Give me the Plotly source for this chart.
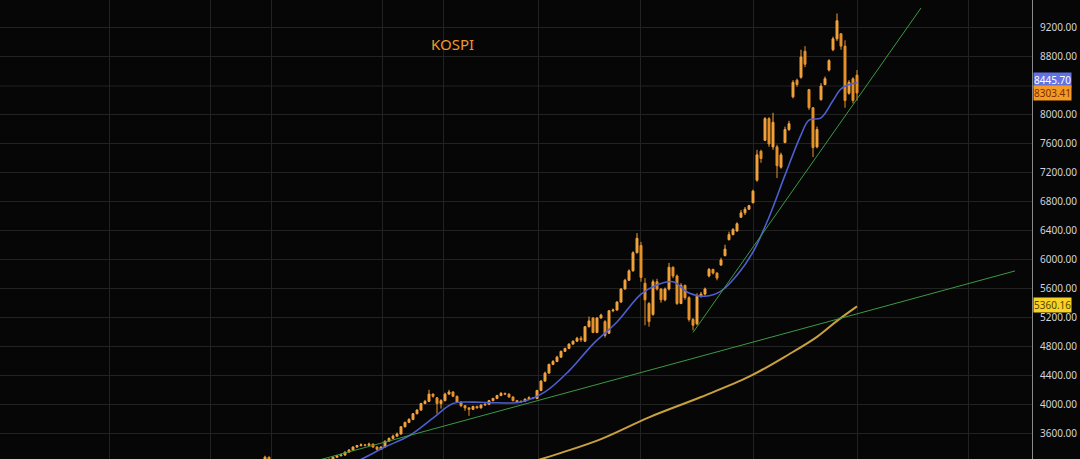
import plotly.graph_objects as go

# candle data (one candle per session)
opens = [3250, 3280, 3230, 3190, 3160, 3140, 3120, 3150, 3170, 3150,
         3180, 3200, 3190, 3210, 3230, 3220, 3240, 3250, 3280, 3300,
         3310, 3350, 3380, 3420, 3440, 3450, 3445, 3460, 3420, 3390,
         3420, 3500, 3540, 3570, 3600, 3700, 3760, 3800, 3880, 3930,
         4020, 4050, 4150, 4100, 4020, 4060, 4150, 4180, 4120, 4040,
         3990, 3960, 3940, 3980, 3960, 4000, 4010, 4060, 4090, 4130,
         4160, 4150, 4110, 4060, 4040, 4050, 4080, 4100, 4090, 4200,
         4330, 4440, 4560, 4600, 4660, 4740, 4780, 4840, 4880, 4920,
         4880, 5080, 5200, 5000, 5200, 5150, 4990, 5300, 5310, 5420,
         5600, 5720, 5850, 6100, 6200, 5680, 5400, 5250, 5700, 5600,
         5450, 5600, 5900, 5780, 5400, 5650, 5480, 5180, 5120, 5500,
         5530, 5780, 5870, 5820, 5930, 6060, 6280, 6350, 6400, 6590,
         6650, 6700, 6790, 7100, 7500, 7650, 7950, 7560, 7560, 7280,
         7620, 7800, 8250, 8480, 8520, 8880, 8350, 8100, 7560, 8210,
         8420, 8620, 8900, 9050, 9120, 8950, 8300, 8500, 8550]
highs = [3300, 3290, 3240, 3200, 3170, 3160, 3160, 3180, 3180, 3190,
         3210, 3210, 3220, 3240, 3240, 3250, 3260, 3290, 3310, 3330,
         3360, 3390, 3430, 3450, 3470, 3460, 3480, 3470, 3430, 3430,
         3510, 3550, 3590, 3620, 3710, 3770, 3820, 3890, 3940, 4030,
         4070, 4210, 4160, 4110, 4080, 4170, 4210, 4190, 4130, 4050,
         4000, 3970, 3990, 3990, 4010, 4020, 4070, 4100, 4140, 4180,
         4170, 4160, 4120, 4070, 4060, 4090, 4120, 4110, 4210, 4340,
         4460, 4570, 4620, 4680, 4750, 4790, 4850, 4890, 4940, 4950,
         5090, 5220, 5210, 5210, 5260, 5170, 5310, 5330, 5430, 5610,
         5740, 5870, 6120, 6370, 6250, 5750, 5420, 5730, 5740, 5610,
         5620, 5960, 5910, 5800, 5680, 5660, 5500, 5200, 5540, 5560,
         5620, 5890, 5880, 5830, 6030, 6210, 6390, 6440, 6520, 6690,
         6730, 6760, 6970, 7520, 7520, 7970, 7970, 8030, 7590, 7480,
         7840, 7920, 8480, 8500, 8900, 8950, 8360, 8110, 7840, 8440,
         8530, 8770, 9080, 9400, 9130, 9030, 8480, 8520, 8620]
lows = [3200, 3220, 3180, 3150, 3130, 3110, 3110, 3140, 3140, 3140,
        3170, 3180, 3180, 3200, 3210, 3210, 3230, 3240, 3270, 3290,
        3300, 3340, 3370, 3410, 3430, 3430, 3440, 3410, 3370, 3380,
        3410, 3490, 3530, 3560, 3590, 3690, 3750, 3790, 3870, 3920,
        4010, 4040, 4100, 3880, 3950, 4050, 4140, 4110, 4030, 3970,
        3920, 3850, 3930, 3950, 3950, 3990, 4000, 4050, 4080, 4120,
        4140, 4100, 4050, 4030, 4030, 4040, 4070, 4080, 4080, 4190,
        4320, 4430, 4550, 4590, 4650, 4730, 4770, 4830, 4870, 4870,
        4870, 5070, 4990, 4990, 5190, 4930, 4980, 5280, 5300, 5410,
        5590, 5710, 5840, 6090, 5700, 5100, 5080, 5230, 5580, 5410,
        5430, 5580, 5750, 5380, 5390, 5450, 5150, 5030, 5100, 5480,
        5510, 5760, 5800, 5720, 5920, 6050, 6270, 6340, 6390, 6580,
        6620, 6690, 6780, 7080, 7340, 7640, 7560, 7520, 7130, 7260,
        7610, 7780, 8230, 8390, 8500, 8660, 8070, 7420, 7540, 8200,
        8410, 8600, 8880, 9020, 8900, 8100, 8280, 8160, 8200]
closes = [3280, 3230, 3190, 3160, 3140, 3120, 3150, 3170, 3150, 3180,
          3200, 3190, 3210, 3230, 3220, 3240, 3250, 3280, 3300, 3310,
          3350, 3380, 3420, 3440, 3450, 3445, 3460, 3420, 3390, 3420,
          3500, 3540, 3570, 3600, 3700, 3760, 3800, 3880, 3930, 4020,
          4050, 4150, 4120, 4020, 4060, 4150, 4180, 4120, 4040, 3990,
          3960, 3940, 3980, 3960, 4000, 4010, 4060, 4090, 4130, 4160,
          4150, 4110, 4060, 4040, 4050, 4080, 4100, 4090, 4200, 4330,
          4440, 4560, 4600, 4660, 4740, 4780, 4840, 4880, 4920, 4900,
          5080, 5160, 5000, 5200, 5240, 4960, 5300, 5310, 5420, 5600,
          5720, 5850, 6100, 6300, 5760, 5450, 5150, 5700, 5600, 5450,
          5600, 5900, 5780, 5400, 5650, 5480, 5180, 5100, 5500, 5530,
          5600, 5870, 5820, 5750, 6000, 6150, 6350, 6420, 6500, 6650,
          6700, 6750, 6950, 7450, 7400, 7950, 7600, 7900, 7300, 7450,
          7800, 7880, 8450, 8420, 8800, 8700, 8100, 7550, 7800, 8400,
          8500, 8750, 9050, 9300, 8950, 8200, 8450, 8200, 8303.41]
bars = list(range(len(closes)))

# short moving average (blue)
ma_short_x = [20, 24, 30, 36, 42, 47, 52, 58, 64, 70, 76, 82, 88, 94, 98,
              102, 106, 110, 114, 118, 122, 126, 130, 134, 136, 139, 142,
              144, 146, 148]
ma_short_y = [3160, 3250, 3420, 3575, 3820, 4020, 4040, 4030, 4040, 4180,
              4470, 4840, 5145, 5530, 5656, 5700, 5545, 5500, 5570, 5790,
              6110, 6590, 7170, 7725, 7930, 7960, 8200, 8360, 8420, 8445.70]

# long moving average (gold)
ma_long_x = [67, 74, 84, 96, 109, 121, 131, 138, 143, 148]
ma_long_y = [3220, 3340, 3530, 3830, 4110, 4390, 4700, 4940, 5160, 5360.16]

# hand-drawn trend lines
trend1_x = [8.75, 187.5]
trend1_y = [3170, 5849]
trend2_x = [107, 164]
trend2_y = [5000, 9476]

# price scale labels (8400 sits under the price tags, so it is not shown)
price_ticks = [3600, 4000, 4400, 4800, 5200, 5600, 6000, 6400, 6800, 7200,
               7600, 8000, 8800, 9200]

# price tags on the axis
tag_values = [8445.70, 8303.41, 5360.16]
tag_colors = ['#6173e3', '#f59a23', '#f7d325']
tag_text_colors = ['#ffffff', '#7a2e00', '#5a4500']
tag_nudge = [3, 0, 1]  # px, keeps the two top tags from overlapping

bg = '#060606'
grid = '#222222'
candle_orange = '#f3a23c'

fig = go.Figure()

fig.add_trace(go.Candlestick(
    x=bars, open=opens, high=highs, low=lows, close=closes,
    increasing=dict(line=dict(color=candle_orange, width=1), fillcolor=candle_orange),
    decreasing=dict(line=dict(color='#e8922a', width=1), fillcolor='#e8922a'),
    whiskerwidth=0, showlegend=False))

fig.add_trace(go.Scatter(x=ma_short_x, y=ma_short_y, mode='lines',
                         line=dict(color='#4d5fd0', width=1.6, shape='spline'),
                         showlegend=False))
fig.add_trace(go.Scatter(x=ma_long_x, y=ma_long_y, mode='lines',
                         line=dict(color='#c9a03e', width=2, shape='spline'),
                         showlegend=False))
fig.add_trace(go.Scatter(x=trend1_x, y=trend1_y, mode='lines',
                         line=dict(color='#3c9a45', width=1), showlegend=False))
fig.add_trace(go.Scatter(x=trend2_x, y=trend2_y, mode='lines',
                         line=dict(color='#3c9a45', width=1), showlegend=False))

# vertical grid lines sit on date boundaries (in bar units)
grid_x = [-39, -13.75, 1.5, 29.25, 44.5, 68.25, 93.75, 122, 148, 175.75]

fig.update_layout(
    width=1080, height=459,
    margin=dict(l=0, r=48, t=0, b=0),
    paper_bgcolor=bg, plot_bgcolor=bg,
    font=dict(family='Noto Sans', color='#d1d4dc', size=10),
    xaxis=dict(range=[-66.25, 191.75], tickvals=grid_x, showticklabels=False,
               showgrid=True, gridcolor=grid, gridwidth=1, zeroline=False,
               rangeslider=dict(visible=False), fixedrange=True),
    yaxis=dict(range=[3255, 9586], side='right', tickvals=price_ticks,
               tickformat='.2f', showgrid=True, gridcolor=grid, gridwidth=1,
               zeroline=False, showline=True, linecolor='#8a8a8a', linewidth=1,
               ticks='', ticklabelstandoff=5,
               tickfont=dict(size=10, color='#d1d4dc')),
    annotations=[dict(text='KOSPI', xref='paper', yref='paper', x=0.438, y=0.904,
                      xanchor='center', yanchor='middle',
                      showarrow=False, font=dict(size=15, color='#f0962e'))],
)

# the 8400 grid line is still drawn, like the other price levels
fig.add_hline(y=8400, line=dict(color=grid, width=1), layer='below')

for v, c, tc, dy in zip(tag_values, tag_colors, tag_text_colors, tag_nudge):
    fig.add_annotation(text=f'{v:.2f}', xref='paper', yref='y', x=1, y=v,
                       xanchor='left', yanchor='middle', xshift=1, yshift=dy,
                       showarrow=False, bgcolor=c, borderpad=0,
                       font=dict(size=10, color=tc))

# drop the default page margin so the chart sits flush in the window
fig.write_html("out.html", config={'displayModeBar': False},
               post_script="document.body.style.margin='0';document.body.style.overflow='hidden';")
